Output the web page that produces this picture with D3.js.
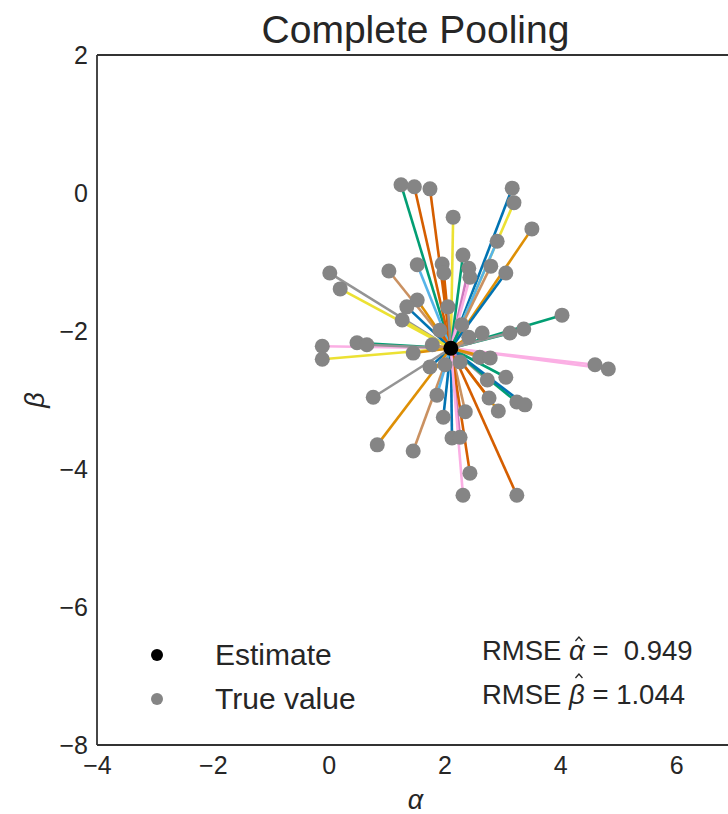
<head>
	<meta charset="utf-8">
	<script src="https://d3js.org/d3.v7.min.js"></script>
	<style>
		body {
			margin: 0;
			background: #fff;
		}
		text {
			font-family: "Liberation Sans", Arial, sans-serif;
			fill: #262626;
			white-space: pre;
		}
		.tick text {
			font-size: 25px;
		}
	</style>
</head>
<body>

<svg width="728" height="814" id="chart"></svg>

<script>

	// seaborn "colorblind" cycle
	var palette = ["#0173b2", "#de8f05", "#029e73", "#d55e00", "#cc78bc",
		"#ca9161", "#fbafe4", "#949494", "#ece133", "#56b4e9"];

	var estimate = {alpha: 2.11, beta: -2.25};

	var trueAlpha = [1.25, 1.48, 1.75, 2.15, 3.17, 3.20, 3.51, 2.91, 2.32, 0.02,
		0.20, 1.04, 1.53, 1.96, 1.99, 2.42, 2.44, 2.80, 3.06, 4.03,
		3.13, 3.37, 2.42, 2.65, 1.53, 1.35, 1.27, 2.06, -0.11, 0.49,
		0.66, -0.11, 1.46, 1.75, 0.77, 0.84, 1.46, 1.87, 1.98, 2.13,
		2.27, 2.36, 2.44, 2.32, 3.25, 2.93, 2.77, 3.06, 2.74, 3.25,
		3.39, 4.60, 4.83, 2.61, 2.79, 1.92, 2.30, 1.79, 2.01, 2.27];

	var trueBeta = [0.12, 0.09, 0.06, -0.35, 0.07, -0.14, -0.52, -0.70, -0.90, -1.16,
		-1.39, -1.13, -1.04, -1.03, -1.16, -1.09, -1.22, -1.06, -1.16, -1.77,
		-2.03, -1.97, -2.09, -2.03, -1.55, -1.65, -1.84, -1.65, -2.22, -2.17,
		-2.20, -2.41, -2.32, -2.52, -2.96, -3.65, -3.74, -2.93, -3.25, -3.55,
		-3.54, -3.17, -4.06, -4.38, -4.38, -3.16, -2.97, -2.67, -2.71, -3.03,
		-3.07, -2.49, -2.55, -2.38, -2.39, -1.99, -1.91, -2.20, -2.49, -2.45];

	var lineColor = [2, 3, 3, 8, 0, 8, 1, 9, 2, 7,
		8, 5, 9, 3, 3, 4, 6, 5, 0, 2,
		2, 7, 1, 5, 1, 0, 8, 7, 6, 2,
		7, 8, 1, 0, 7, 1, 5, 9, 0, 0,
		4, 5, 3, 6, 3, 1, 3, 2, 7, 2,
		0, 6, 6, 5, 1, 3, 2, 5, 9, 4];

	var xTicks = [-4, -2, 0, 2, 4, 6];
	var yTicks = [-8, -6, -4, -2, 0, 2];

	var rmse = {alpha: "0.949", beta: "1.044"};

	var data = trueAlpha.map((a, i) => ({alpha: a, beta: trueBeta[i], c: palette[lineColor[i]]}));

	var svg = d3.select("#chart"),
		margin = {top: 55, left: 97, bottom: 69},
		height = +svg.attr("height");

	var x = d3.scaleLinear()
		.domain([-4, 7])
		.range([margin.left, 734]);

	var y = d3.scaleLinear()
		.domain([-8, 2])
		.range([height - margin.bottom, margin.top]);

	// axes, no tick marks
	var xAxis = svg.append("g")
		.attr("transform", "translate(0," + y(-8) + ")")
		.call(d3.axisBottom(x).tickValues(xTicks).tickSize(0).tickPadding(11));

	var yAxis = svg.append("g")
		.attr("transform", "translate(" + x(-4) + ",0)")
		.call(d3.axisLeft(y).tickValues(yTicks).tickSize(0).tickPadding(9));

	svg.selectAll(".domain").remove();
	svg.selectAll(".tick text").style("fill", "#262626");

	// spines
	var spines = svg.append("g")
		.attr("stroke", "#333")
		.attr("stroke-width", 1.8);
	spines.append("line")
		.attr("x1", x(-4)).attr("x2", x(7)).attr("y1", y(2)).attr("y2", y(2));
	spines.append("line")
		.attr("x1", x(-4)).attr("x2", x(7)).attr("y1", y(-8)).attr("y2", y(-8));
	spines.append("line")
		.attr("x1", x(-4)).attr("x2", x(-4)).attr("y1", y(2)).attr("y2", y(-8));
	spines.append("line")
		.attr("x1", x(7)).attr("x2", x(7)).attr("y1", y(2)).attr("y2", y(-8));

	// pooled estimate -> true value
	svg.append("g").selectAll("line")
		.data(data)
		.enter().append("line")
		.attr("x1", x(estimate.alpha))
		.attr("y1", y(estimate.beta))
		.attr("x2", d => x(d.alpha))
		.attr("y2", d => y(d.beta))
		.attr("stroke", d => d.c)
		.attr("stroke-width", 2.6);

	svg.append("g").selectAll("circle")
		.data(data)
		.enter().append("circle")
		.attr("cx", d => x(d.alpha))
		.attr("cy", d => y(d.beta))
		.attr("r", 7.5)
		.attr("fill", "#858585");

	svg.append("circle")
		.attr("cx", x(estimate.alpha))
		.attr("cy", y(estimate.beta))
		.attr("r", 7.5)
		.attr("fill", "#000");

	// title and labels
	svg.append("text")
		.attr("x", (x(-4) + x(7)) / 2)
		.attr("y", 43)
		.attr("text-anchor", "middle")
		.style("font-size", "39px")
		.text("Complete Pooling");

	svg.append("text")
		.attr("x", (x(-4) + x(7)) / 2)
		.attr("y", 809)
		.attr("text-anchor", "middle")
		.style("font-size", "27px")
		.style("font-style", "italic")
		.text("α");

	svg.append("text")
		.attr("transform", "translate(44," + (y(-3)) + ") rotate(-90)")
		.attr("text-anchor", "middle")
		.style("font-size", "27px")
		.style("font-style", "italic")
		.text("β");

	// legend
	var legend = [
		{label: "Estimate", fill: "#000", row: 0},
		{label: "True value", fill: "#858585", row: 1}
	];

	var leg = svg.selectAll(".legend")
		.data(legend)
		.enter().append("g")
		.attr("class", "legend")
		.attr("transform", d => "translate(0," + (d.row * 44) + ")");

	leg.append("circle")
		.attr("cx", 157)
		.attr("cy", 655)
		.attr("r", 6)
		.attr("fill", d => d.fill);

	leg.append("text")
		.attr("x", 215)
		.attr("y", 665)
		.style("font-size", "30px")
		.text(d => d.label);

	// RMSE annotation, hats drawn as small chevrons
	var notes = [
		{sym: "α", pre: " =  ", val: rmse.alpha, row: 0},
		{sym: "β", pre: " = ", val: rmse.beta, row: 1}
	];

	notes.forEach(function(n) {
		var base = 660 + n.row * 44;
		var t = svg.append("text")
			.attr("x", 482)
			.attr("y", base)
			.style("font-size", "27.5px");
		t.append("tspan").text("RMSE ");
		var s = t.append("tspan").style("font-style", "italic").text(n.sym);
		t.append("tspan").text(n.pre + n.val);

		var box = s.node().getExtentOfChar(0);
		var cx = box.x + box.width / 2 + 2,
			top = base - (n.sym == "β" ? 30 : 23);
		svg.append("path")
			.attr("d", "M" + (cx - 3.5) + "," + (top + 4) + "L" + cx + "," + top + "L" + (cx + 3.5) + "," + (top + 4))
			.attr("fill", "none")
			.attr("stroke", "#262626")
			.attr("stroke-width", 1.3);
	});

</script>
</body>
